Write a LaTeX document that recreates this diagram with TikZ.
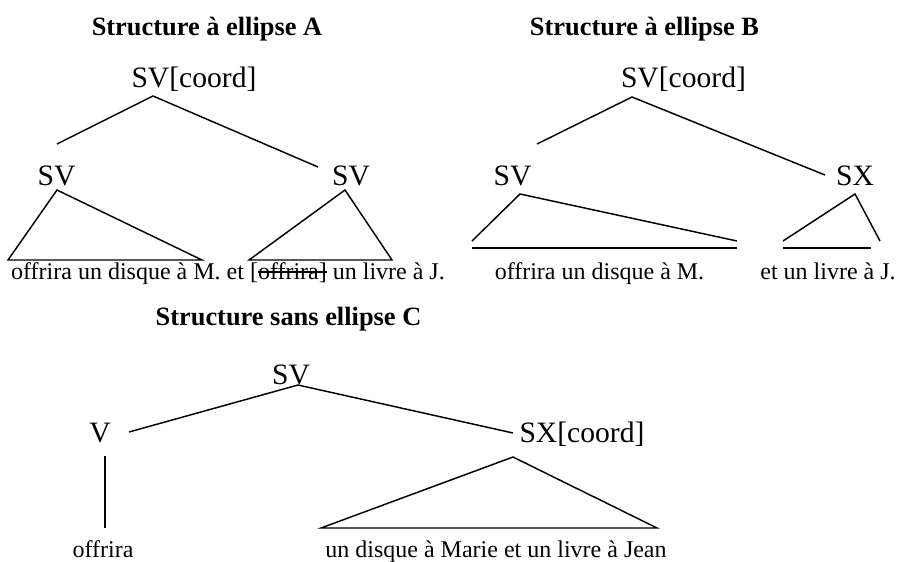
\documentclass[tikz,border=0pt]{standalone}
\usepackage{fontspec}
\setmainfont{Liberation Serif}
\newcommand{\barre}[1]{\setbox0\hbox{#1}\rlap{\rule[0.27em]{\wd0}{0.8pt}}\box0}
\begin{document}
\begin{tikzpicture}[x=0.75pt,y=-0.75pt,
  lbl/.style={anchor=base,inner sep=0pt,font=\fontsize{22.2}{25}\selectfont},
  ttl/.style={anchor=base,inner sep=0pt,font=\fontsize{19.8}{23}\selectfont\bfseries},
  txt/.style={anchor=base,inner sep=0pt,font=\fontsize{18}{21}\selectfont},
  br/.style={line width=1.1pt,line join=miter}]
\useasboundingbox (0,0) rectangle (899,561);
% titles
\node[ttl] (tA) at (207,35) {Structure à ellipse A};
\node[ttl] (tB) at (644.5,35) {Structure à ellipse B};
\node[ttl] (tC) at (288.5,325) {Structure sans ellipse C};
% --- A ---
\node[lbl] (rA) at (194,87) {SV[coord]};
\node[lbl] (a1) at (56.5,185) {SV};
\node[lbl] (a2) at (351,185) {SV};
\node[txt] (wA) at (228,279) {offrira un disque à M. et [\barre{offrira]}\kern-0.333em\phantom{]} un livre à J.};
\coordinate (pA) at (153,96);
\coordinate (pA1) at (57,144);
\coordinate (pA2) at (318,167);
\draw[br] (pA1) -- (pA) -- (pA2);
\coordinate (ta1) at (57,190);
\coordinate (ta1l) at (8,260);
\coordinate (ta1r) at (202,260);
\draw[br] (ta1) -- (ta1l) -- (ta1r) -- cycle;
\coordinate (ta2) at (345,190);
\coordinate (ta2l) at (249,260);
\coordinate (ta2r) at (392,260);
\draw[br] (ta2) -- (ta2l) -- (ta2r) -- cycle;
% --- B ---
\node[lbl] (rB) at (683.5,87) {SV[coord]};
\node[lbl] (b1) at (512.5,185) {SV};
\node[lbl] (b2) at (855,185) {SX};
\node[txt] (wB1) at (599.5,279) {offrira un disque à M.};
\node[txt] (wB2) at (828,279) {et un livre à J.};
\coordinate (pB) at (632,97);
\coordinate (pB1) at (537,144);
\coordinate (pB2) at (825,175);
\draw[br] (pB1) -- (pB) -- (pB2);
\coordinate (tb1) at (520,194);
\coordinate (tb1l) at (472,241);
\coordinate (tb1r) at (737,241);
\draw[br] (tb1l) -- (tb1) -- (tb1r);
\coordinate (bb1l) at (472,248);
\coordinate (bb1r) at (737,248);
\draw[br] (bb1l) -- (bb1r);
\coordinate (tb2) at (855,194);
\coordinate (tb2l) at (783,241);
\coordinate (tb2r) at (880,241);
\draw[br] (tb2l) -- (tb2) -- (tb2r);
\coordinate (bb2l) at (783,248);
\coordinate (bb2r) at (871,248);
\draw[br] (bb2l) -- (bb2r);
% --- C ---
\node[lbl] (rC) at (291,384) {SV};
\node[lbl] (c1) at (100,442) {V};
\node[lbl] (c2) at (582,442) {SX[coord]};
\node[txt] (wC1) at (103,557) {offrira};
\node[txt] (wC2) at (496,557) {un disque à Marie et un livre à Jean};
\coordinate (pC) at (298,385);
\coordinate (pC1) at (129,432);
\coordinate (pC2) at (513,433);
\draw[br] (pC1) -- (pC) -- (pC2);
\coordinate (vt) at (105,456);
\coordinate (vb) at (105,528);
\draw[br] (vt) -- (vb);
\coordinate (tc) at (513,457);
\coordinate (tcl) at (321,528);
\coordinate (tcr) at (657,528);
\draw[br] (tc) -- (tcl) -- (tcr) -- cycle;
\end{tikzpicture}
\end{document}
